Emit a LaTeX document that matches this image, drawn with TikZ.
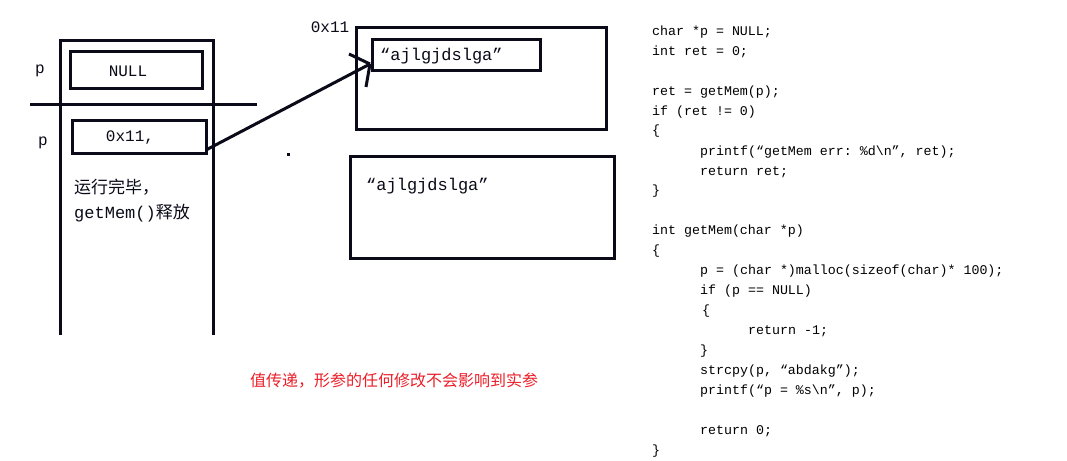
\documentclass[tikz,border=0pt]{standalone}
\usepackage{fontspec}
\setmonofont{Liberation Mono}
\newfontfamily\cjk{Noto Sans CJK SC}
\definecolor{ink}{RGB}{10,10,25}
\definecolor{warn}{RGB}{235,30,40}
\begin{document}
\begin{tikzpicture}[x=1pt,y=-1pt,
  box/.style={draw=ink,line width=3pt,inner sep=0pt,outer sep=0pt},
  lbl/.style={font=\ttfamily\fontsize{16}{18}\selectfont,inner sep=0pt,text=ink},
  code/.style={font=\ttfamily\fontsize{13.3}{16}\selectfont,anchor=west,inner sep=0pt},
  stroke/.style={draw=ink,line width=3pt}]
\useasboundingbox (0,0) rectangle (1067,460);
\fill[white] (0,0) rectangle (1067,460);
% stack frame
\draw[stroke] (60,335) -- (60,41) -- (213,41) -- (213,335);
\draw[stroke] (30,104) -- (257,104);
\node[box,minimum width=132,minimum height=36] (nullbox) at (136,70) {};
\node[lbl] (nulltxt) at (128,71) {NULL};
\node[lbl] (p1) at (40,71) {p};
\node[box,minimum width=134,minimum height=33] (ptrbox) at (139,136.5) {};
\node[lbl] (ptrtxt) at (130,138) {0x11,};
\node[lbl] (p2) at (43,143) {p};
\node[anchor=west,align=left,inner sep=0pt,text=ink,font=\fontsize{17}{25}\selectfont] (note) at (74,200.5)
  {{\cjk 运行完毕，}\\{\ttfamily getMem()}{\cjk 释放}};
\fill[ink] (286.5,152.5) rectangle ++(3,3);
% heap
\node[lbl] (addr) at (330,27) {0x11};
\node[box,minimum width=250,minimum height=101] (heap1) at (481,78.5) {};
\node[box,minimum width=168,minimum height=30] (strbox) at (456,55) {};
\node[lbl,font=\ttfamily\fontsize{17}{18}\selectfont,anchor=west] (strtxt) at (380,56) {“ajlgjdslga”};
\node[box,minimum width=264,minimum height=102] (heap2) at (482,207) {};
\node[lbl,font=\ttfamily\fontsize{17}{18}\selectfont,anchor=west] (str2) at (366,186) {“ajlgjdslga”};
% pointer arrow
\coordinate (tip) at ([xshift=-2pt,yshift=6pt]strbox.south west);
\draw[stroke] ([yshift=3pt]ptrbox.south east) -- (tip);
\draw[stroke] (tip) -- ++(-21,-10);
\draw[stroke] (tip) -- ++(-4,23);
% message
\node[font=\cjk\fontsize{16}{18}\selectfont,text=warn,inner sep=0pt] (msg) at (394,381) {值传递，形参的任何修改不会影响到实参};
% code
\node[code] (c1) at (652,32) {char *p = NULL;};
\node[code] (c2) at (652,52) {int ret = 0;};
\node[code] (c3) at (652,92) {ret = getMem(p);};
\node[code] (c4) at (652,112) {if (ret != 0)};
\node[code] (c5) at (652,131) {\{};
\node[code] (c6) at (700,152) {printf(“getMem err: \%d\textbackslash n”, ret);};
\node[code] (c7) at (700,172) {return ret;};
\node[code] (c8) at (652,191) {\}};
\node[code] (c9) at (652,231) {int getMem(char *p)};
\node[code] (c10) at (652,251) {\{};
\node[code] (c11) at (700,271) {p = (char *)malloc(sizeof(char)* 100);};
\node[code] (c12) at (700,291) {if (p == NULL)};
\node[code] (c13) at (702,311) {\{};
\node[code] (c14) at (748,331) {return -1;};
\node[code] (c15) at (700,351) {\}};
\node[code] (c16) at (700,371) {strcpy(p, “abdakg”);};
\node[code] (c17) at (700,391) {printf(“p = \%s\textbackslash n”, p);};
\node[code] (c18) at (700,431) {return 0;};
\node[code] (c19) at (652,451) {\}};
\end{tikzpicture}
\end{document}
